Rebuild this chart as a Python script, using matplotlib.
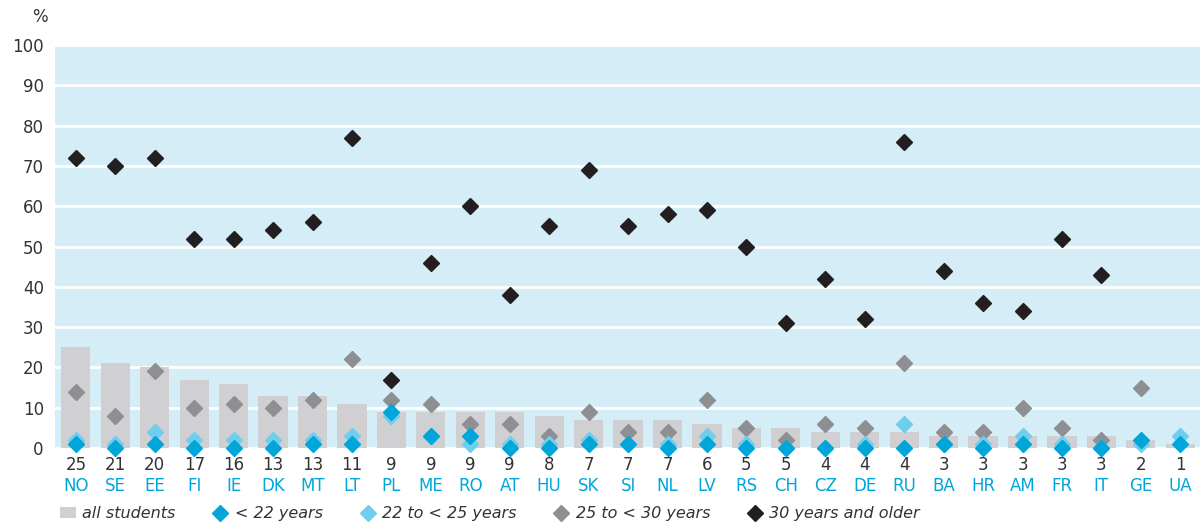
import numpy as np
import matplotlib.pyplot as plt
from matplotlib.lines import Line2D
from matplotlib.patches import Patch

# --- DATA ---
countries = ["NO", "SE", "EE", "FI", "IE", "DK", "MT", "LT", "PL", "ME",
             "RO", "AT", "HU", "SK", "SI", "NL", "LV", "RS", "CH", "CZ",
             "DE", "RU", "BA", "HR", "AM", "FR", "IT", "GE", "UA"]
all_students = [25, 21, 20, 17, 16, 13, 13, 11, 9, 9,
                9, 9, 8, 7, 7, 7, 6, 5, 5, 4,
                4, 4, 3, 3, 3, 3, 3, 2, 1]
under_22 = [1, 0, 1, 0, 0, 0, 1, 1, 9, 3,
            3, 0, 0, 1, 1, 0, 1, 0, 0, 0,
            0, 0, 1, 0, 1, 0, 0, 2, 1]
from_22_to_25 = [2, 1, 4, 2, 2, 2, 2, 3, 8, 3,
                 1, 1, 1, 2, 1, 1, 3, 1, 0, 0,
                 1, 6, 1, 1, 3, 1, 0, 1, 3]
from_25_to_30 = [14, 8, 19, 10, 11, 10, 12, 22, 12, 11,
                 6, 6, 3, 9, 4, 4, 12, 5, 2, 6,
                 5, 21, 4, 4, 10, 5, 2, 15, np.nan]
over_30 = [72, 70, 72, 52, 52, 54, 56, 77, 17, 46,
           60, 38, 55, 69, 55, 58, 59, 50, 31, 42,
           32, 76, 44, 36, 34, 52, 43, np.nan, np.nan]

BG = "#d5edf7"
BAR = "#d0d0d2"
DARK_BLUE = "#00a6d9"
LIGHT_BLUE = "#6fcdee"
GREY = "#8e8f92"
BLACK = "#231f20"
TEXT = "#333333"

fig = plt.figure(figsize=(12, 5.25), dpi=100)
ax = fig.add_axes([0.0458, 0.1467, 0.9542, 0.7673])
ax.set_facecolor(BG)

x = np.arange(len(countries))

ax.bar(x, all_students, width=0.74, color=BAR, zorder=2)

ms = 8
ax.plot(x, from_25_to_30, "D", color=GREY, ms=ms, ls="none", zorder=3, clip_on=False)
ax.plot(x, from_22_to_25, "D", color=LIGHT_BLUE, ms=ms, ls="none", zorder=4, clip_on=False)
ax.plot(x, under_22, "D", color=DARK_BLUE, ms=ms, ls="none", zorder=5, clip_on=False)
ax.plot(x, over_30, "D", color=BLACK, ms=ms, ls="none", zorder=6, clip_on=False)

ax.set_ylim(0, 100)
ax.set_xlim(-0.53, 28.5)
ax.set_yticks(range(0, 101, 10))
ax.yaxis.grid(True, color="white", linewidth=2, zorder=1)
ax.set_axisbelow(True)
for s in ax.spines.values():
    s.set_visible(False)
ax.tick_params(axis="y", length=0, pad=8, labelsize=12, labelcolor=TEXT)

ax.set_xticks(x)
ax.set_xticklabels([str(v) for v in all_students], fontsize=12, color=TEXT)
ax.tick_params(axis="x", length=0, pad=6)
for i, code in enumerate(countries):
    ax.text(i, -0.094, code, transform=ax.get_xaxis_transform(),
            ha="center", va="center", fontsize=12, color=DARK_BLUE)

fig.text(0.033, 0.967, "%", ha="center", va="center", fontsize=12, color=TEXT)

handles = [
    Patch(facecolor=BAR, edgecolor="none"),
    Line2D([], [], marker="D", color=DARK_BLUE, ls="none", ms=ms),
    Line2D([], [], marker="D", color=LIGHT_BLUE, ls="none", ms=ms),
    Line2D([], [], marker="D", color=GREY, ls="none", ms=ms),
    Line2D([], [], marker="D", color=BLACK, ls="none", ms=ms),
]
labels = ["all students", "< 22 years", "22 to < 25 years",
          "25 to < 30 years", "30 years and older"]
leg = fig.legend(handles, labels, loc="center left", bbox_to_anchor=(0.038, 0.021),
                 ncol=5, frameon=False, handlelength=1.0, handletextpad=0.4,
                 columnspacing=2.3, prop={"style": "italic", "size": 11.5})
for t in leg.get_texts():
    t.set_color(TEXT)

fig.savefig("out.png", dpi=100)
